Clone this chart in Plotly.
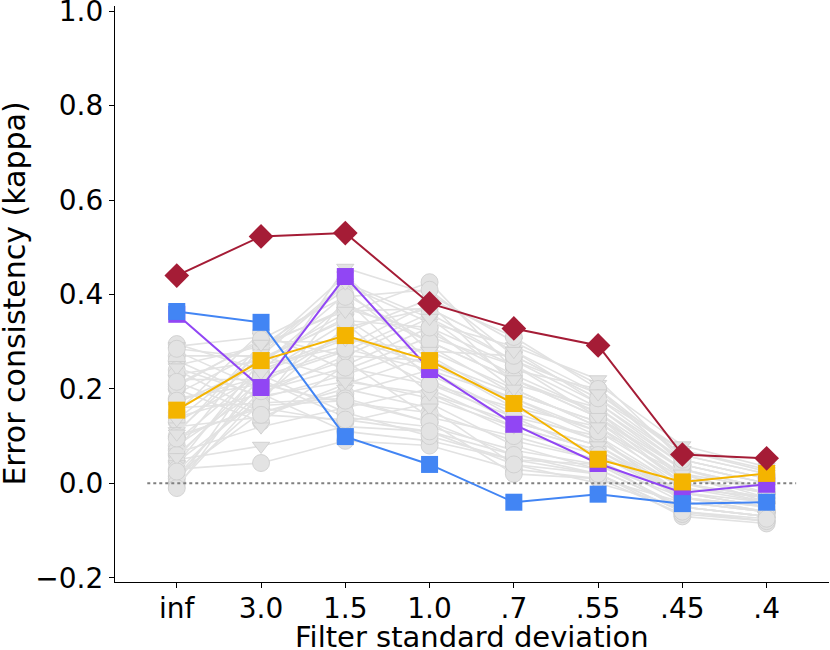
import plotly.graph_objects as go

# Category labels (filter standard deviation)
categories = ["inf", "3.0", "1.5", "1.0", ".7", ".55", ".45", ".4"]

# Highlighted series (error consistency, kappa)
red_values = [0.44, 0.523, 0.53, 0.381, 0.328, 0.292, 0.061, 0.053]
blue_values = [0.364, 0.341, 0.099, 0.040, -0.040, -0.023, -0.043, -0.040]
purple_values = [0.358, 0.203, 0.438, 0.241, 0.125, 0.042, -0.020, -0.002]
orange_values = [0.155, 0.260, 0.313, 0.260, 0.169, 0.051, 0.003, 0.021]

# Background (grey) models: one list per category, entry i belongs to model i
grey_inf = [0.295, 0.29, 0.28, 0.27, 0.26, 0.25, 0.24, 0.23, 0.22, 0.21, 0.20, 0.19,
            0.18, 0.17, 0.16, 0.15, 0.14, 0.13, 0.12, 0.11, 0.10, 0.09, 0.08, 0.07,
            0.065, 0.06, 0.05, 0.045, 0.04, 0.03, 0.02, 0.015, 0.01, 0.0, -0.005, -0.01,
            0.285, 0.245, 0.205, 0.175, 0.135, 0.095, 0.055, 0.025, 0.105, 0.215]
grey_3_0 = [0.24, 0.31, 0.20, 0.27, 0.18, 0.29, 0.15, 0.26, 0.22, 0.30, 0.13, 0.28,
            0.21, 0.25, 0.17, 0.32, 0.19, 0.23, 0.14, 0.27, 0.16, 0.24, 0.20, 0.29,
            0.12, 0.22, 0.079, 0.18, 0.26, 0.043, 0.15, 0.21, 0.17, 0.25, 0.19, 0.23,
            0.265, 0.185, 0.305, 0.225, 0.275, 0.165, 0.235, 0.195, 0.295, 0.145]
grey_1_5 = [0.38, 0.27, 0.456, 0.22, 0.33, 0.41, 0.19, 0.36, 0.14, 0.30, 0.25, 0.44,
            0.17, 0.29, 0.39, 0.24, 0.11, 0.34, 0.21, 0.42, 0.13, 0.31, 0.26, 0.37,
            0.16, 0.28, 0.12, 0.23, 0.35, 0.09, 0.20, 0.32, 0.18, 0.40, 0.27, 0.15,
            0.345, 0.215, 0.395, 0.285, 0.425, 0.175, 0.305, 0.245, 0.365, 0.135]
grey_1_0 = [0.30, 0.35, 0.40, 0.18, 0.37, 0.26, 0.24, 0.426, 0.12, 0.21, 0.33, 0.28,
            0.15, 0.38, 0.22, 0.31, 0.09, 0.19, 0.27, 0.34, 0.17, 0.25, 0.14, 0.32,
            0.20, 0.36, 0.11, 0.29, 0.23, 0.08, 0.16, 0.39, 0.13, 0.30, 0.26, 0.10,
            0.33, 0.19, 0.41, 0.24, 0.35, 0.13, 0.28, 0.21, 0.37, 0.11]
grey_0_7 = [0.22, 0.26, 0.30, 0.12, 0.28, 0.19, 0.14, 0.24, 0.07, 0.16, 0.20, 0.27,
            0.09, 0.21, 0.13, 0.25, 0.05, 0.11, 0.17, 0.29, 0.08, 0.18, 0.10, 0.23,
            0.12, 0.26, 0.06, 0.19, 0.15, 0.03, 0.04, 0.31, 0.02, 0.22, 0.16, 0.05,
            0.25, 0.13, 0.27, 0.18, 0.22, 0.06, 0.20, 0.14, 0.28, 0.04]
grey_0_55 = [0.15, 0.19, 0.21, 0.07, 0.17, 0.13, 0.10, 0.20, 0.04, 0.09, 0.12, 0.18,
             0.05, 0.16, 0.08, 0.14, 0.02, 0.06, 0.11, 0.22, 0.03, 0.10, 0.05, 0.15,
             0.07, 0.17, 0.02, 0.13, 0.09, 0.01, 0.00, 0.20, 0.01, 0.14, 0.12, 0.04,
             0.16, 0.08, 0.18, 0.11, 0.14, 0.03, 0.12, 0.06, 0.19, 0.02]
grey_0_45 = [0.03, 0.06, 0.08, -0.03, 0.05, 0.02, -0.04, 0.04, -0.05, -0.01, 0.01, 0.07,
             -0.06, 0.03, -0.02, 0.00, -0.07, -0.03, 0.02, 0.05, -0.05, -0.01, -0.04, 0.01,
             -0.02, 0.04, -0.06, 0.00, -0.02, -0.065, -0.05, 0.06, -0.04, 0.03, -0.01, -0.03,
             0.04, -0.03, 0.05, 0.00, 0.02, -0.05, 0.01, -0.02, 0.07, -0.06]
grey_0_4 = [-0.02, 0.02, 0.035, -0.05, 0.01, -0.03, -0.06, 0.00, -0.07, -0.04, -0.02, 0.03,
            -0.08, -0.01, -0.05, -0.03, -0.085, -0.06, -0.04, 0.01, -0.07, -0.03, -0.06, -0.02,
            -0.05, 0.00, -0.08, -0.04, -0.05, -0.08, -0.07, 0.02, -0.06, -0.01, -0.03, -0.06,
            0.00, -0.05, 0.01, -0.03, -0.01, -0.07, -0.02, -0.04, 0.025, -0.075]
grey_symbols = ["circle", "triangle-down", "triangle-down", "circle", "circle", "triangle-down",
                "circle", "circle", "triangle-down", "circle", "circle", "triangle-down",
                "circle", "triangle-down", "triangle-down", "circle", "circle", "circle",
                "triangle-down", "triangle-down", "circle", "triangle-down", "circle", "circle",
                "triangle-down", "circle", "triangle-down", "circle", "triangle-down", "circle",
                "triangle-down", "circle", "circle", "circle", "triangle-down", "circle",
                "circle", "triangle-down", "circle", "circle", "triangle-down", "circle",
                "triangle-down", "circle", "triangle-down", "circle"]

x_idx = list(range(len(categories)))
grey_columns = [grey_inf, grey_3_0, grey_1_5, grey_1_0, grey_0_7, grey_0_55, grey_0_45, grey_0_4]

fig = go.Figure()

GREY_LINE = "#e2e2e2"
GREY_FILL = "#e3e3e3"
GREY_EDGE = "#cbcbcb"

for i in range(len(grey_inf)):
    ys = [col[i] for col in grey_columns]
    sym = grey_symbols[i]
    fig.add_trace(go.Scatter(
        x=x_idx, y=ys, mode="lines+markers",
        line=dict(color=GREY_LINE, width=1.6),
        marker=dict(symbol=sym, size=17 if sym == "circle" else 15,
                    color=GREY_FILL, line=dict(color=GREY_EDGE, width=0.8)),
        showlegend=False, hoverinfo="skip"))

# Zero reference line
fig.add_trace(go.Scatter(
    x=[-0.35, 7.35], y=[0, 0], mode="lines",
    line=dict(color="#808080", width=2, dash="dot"),
    showlegend=False, hoverinfo="skip"))

highlight = [
    (purple_values, "#9146f4", "square", 17),
    (blue_values, "#4285f4", "square", 17),
    (orange_values, "#f4b400", "square", 17),
    (red_values, "#a51c36", "diamond", 19),
]
for vals, col, sym, size in highlight:
    fig.add_trace(go.Scatter(
        x=x_idx, y=vals, mode="lines+markers",
        line=dict(color=col, width=2),
        marker=dict(symbol=sym, size=size, color=col, line=dict(width=0)),
        showlegend=False))

FONT = "DejaVu Sans"
tick_font = dict(family=FONT, size=28, color="black")
fig.update_layout(
    width=830, height=650,
    margin=dict(l=115, r=1, t=6, b=68, autoexpand=False),
    paper_bgcolor="white", plot_bgcolor="white",
    font=dict(family=FONT, color="black"),
    annotations=[
        dict(text="Filter standard deviation", xref="paper", yref="paper",
             x=0.5, y=-0.096, xanchor="center", yanchor="middle", showarrow=False,
             font=dict(family=FONT, size=29, color="black")),
        dict(text="Error consistency (kappa)", xref="paper", yref="paper",
             x=-0.142, y=0.5, xanchor="center", yanchor="middle", showarrow=False,
             textangle=-90, font=dict(family=FONT, size=30, color="black")),
    ],
)
fig.update_xaxes(
    range=[-0.733, 7.74], tickmode="array", tickvals=x_idx, ticktext=categories,
    showline=True, linecolor="black", linewidth=1.2, mirror=False,
    ticks="outside", ticklen=5, tickwidth=1.2, tickcolor="black",
    showgrid=False, zeroline=False, tickfont=tick_font, automargin=False,
    ticklabeloverflow="allow", ticklabelstandoff=-4,
)
fig.update_yaxes(
    range=[-0.209, 1.011], tickmode="array",
    tickvals=[-0.2, 0.0, 0.2, 0.4, 0.6, 0.8, 1.0],
    ticktext=["\u22120.2", "0.0", "0.2", "0.4", "0.6", "0.8", "1.0"],
    showline=True, linecolor="black", linewidth=1.2, mirror=False,
    ticks="outside", ticklen=5, tickwidth=1.2, tickcolor="black",
    showgrid=False, zeroline=False, tickfont=tick_font, automargin=False,
    ticklabeloverflow="allow",
)

fig.write_html("out.html", config={"displayModeBar": False},
               post_script="document.body.style.margin='0px';")
